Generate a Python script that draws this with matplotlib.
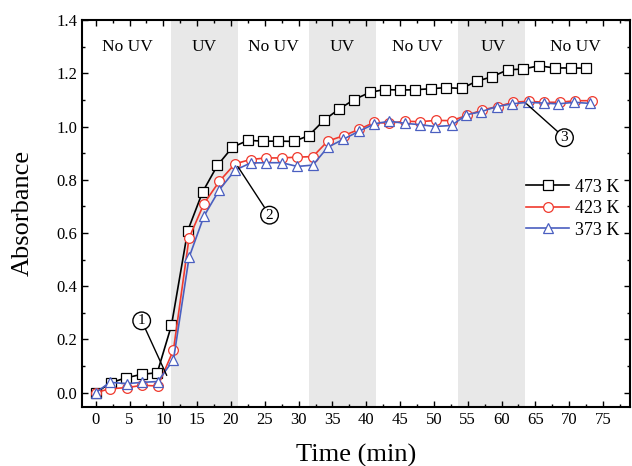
import matplotlib
matplotlib.use("Agg")
import matplotlib.pyplot as plt
from matplotlib.ticker import MultipleLocator

plt.rcParams['font.family'] = ['Liberation Serif', 'DejaVu Serif']
plt.rcParams['mathtext.fontset'] = 'stix'

# ---- data ----
t_473 = [0, 2.3, 4.5, 6.8, 9.1, 11.2, 13.6, 15.8, 18.0, 20.2, 22.5, 24.8, 27.0, 29.3, 31.5,
         33.8, 36.0, 38.2, 40.5, 42.7, 45.0, 47.2, 49.5, 51.8, 54.1, 56.3, 58.6, 60.9, 63.2,
         65.5, 67.9, 70.2, 72.5]
a_473 = [0.0, 0.038, 0.056, 0.069, 0.075, 0.253, 0.608, 0.754, 0.854, 0.922, 0.948, 0.945,
         0.945, 0.944, 0.966, 1.025, 1.066, 1.101, 1.128, 1.139, 1.137, 1.138, 1.142, 1.146,
         1.143, 1.170, 1.187, 1.213, 1.216, 1.228, 1.220, 1.220, 1.219]

t_423 = [0, 2.1, 4.6, 6.9, 9.2, 11.5, 13.8, 16.0, 18.3, 20.6, 22.9, 25.2, 27.5, 29.8, 32.1,
         34.3, 36.7, 38.9, 41.2, 43.4, 45.7, 47.9, 50.3, 52.6, 54.9, 57.1, 59.4, 61.7, 64.0,
         66.3, 68.6, 70.9, 73.3]
a_423 = [0.0, 0.015, 0.019, 0.028, 0.025, 0.161, 0.581, 0.710, 0.795, 0.860, 0.876, 0.882,
         0.882, 0.885, 0.887, 0.945, 0.966, 0.989, 1.016, 1.012, 1.020, 1.018, 1.023, 1.022,
         1.042, 1.062, 1.075, 1.091, 1.095, 1.091, 1.091, 1.097, 1.097]

t_373 = [0, 2.1, 4.6, 6.9, 9.2, 11.5, 13.8, 16.0, 18.3, 20.6, 22.9, 25.2, 27.5, 29.8, 32.1,
         34.3, 36.6, 38.9, 41.2, 43.4, 45.7, 47.9, 50.2, 52.6, 54.8, 57.0, 59.3, 61.5, 63.9,
         66.2, 68.4, 70.7, 73.0]
a_373 = [0.0, 0.039, 0.034, 0.039, 0.042, 0.124, 0.508, 0.663, 0.763, 0.836, 0.863, 0.864,
         0.864, 0.850, 0.855, 0.922, 0.952, 0.982, 1.010, 1.020, 1.012, 1.007, 1.000, 1.004,
         1.044, 1.056, 1.075, 1.085, 1.091, 1.088, 1.085, 1.091, 1.087]

uv_start = [11.2, 31.5, 53.5]
uv_end = [21.0, 41.5, 63.4]
phase_labels = ["No UV", "UV", "No UV", "UV", "No UV", "UV", "No UV"]
phase_x = [4.7, 16.0, 26.2, 36.5, 47.5, 58.7, 70.9]

fig = plt.figure(figsize=(6.32, 4.66), dpi=100)
ax = fig.add_axes([0.130, 0.127, 0.867, 0.830])

for s, e in zip(uv_start, uv_end):
    ax.axvspan(s, e, color='#e8e8e8', lw=0, zorder=0)

for lab, x in zip(phase_labels, phase_x):
    ax.text(x, 1.30, lab, ha='center', va='center', fontsize=12.5)

ax.plot(t_473, a_473, '-s', color='black', lw=1.2, ms=6.5, mfc='white', mec='black',
        mew=0.9, label='473 K', zorder=3)
ax.plot(t_423, a_423, '-o', color='#f03a2e', lw=1.2, ms=7, mfc='white', mec='#f03a2e',
        mew=0.9, label='423 K', zorder=4)
ax.plot(t_373, a_373, '-^', color='#4a5fc0', lw=1.2, ms=7.5, mfc='white', mec='#4a5fc0',
        mew=0.9, label='373 K', zorder=5)

circ = dict(boxstyle='circle,pad=0.15', fc='white', ec='black', lw=1)
arr = dict(arrowstyle='-', color='black', lw=1, shrinkA=0, shrinkB=0)
ax.annotate('1', xy=(10.5, 0.065), xytext=(6.8, 0.27), fontsize=11, ha='center',
            va='center', bbox=circ, arrowprops=arr, zorder=6)
ax.annotate('2', xy=(21.0, 0.85), xytext=(25.7, 0.667), fontsize=11, ha='center',
            va='center', bbox=circ, arrowprops=arr, zorder=6)
ax.annotate('3', xy=(63.7, 1.085), xytext=(69.3, 0.958), fontsize=11, ha='center',
            va='center', bbox=circ, arrowprops=arr, zorder=6)

ax.set_xlim(-2, 79)
ax.set_ylim(-0.053, 1.4)
ax.xaxis.set_major_locator(MultipleLocator(5))
ax.xaxis.set_minor_locator(MultipleLocator(2.5))
ax.yaxis.set_major_locator(MultipleLocator(0.2))
ax.yaxis.set_minor_locator(MultipleLocator(0.1))
ax.yaxis.set_major_formatter(plt.FuncFormatter(lambda v, p: f"{v:.1f}"))
ax.tick_params(which='both', direction='in', top=True, right=True, labelsize=12)
ax.tick_params(which='major', length=4, width=1)
ax.tick_params(which='minor', length=2, width=1)
for sp in ax.spines.values():
    sp.set_linewidth(1.5)

ax.set_xlabel('Time (min)', fontsize=19, labelpad=12)
ax.set_ylabel('Absorbance', fontsize=19, labelpad=16)

ax.legend(loc='upper right', bbox_to_anchor=(1.0, 0.618), frameon=False, fontsize=13,
          handlelength=2.4, handletextpad=0.3, labelspacing=0.25, borderaxespad=0.2)

fig.savefig('out.png', dpi=100)
